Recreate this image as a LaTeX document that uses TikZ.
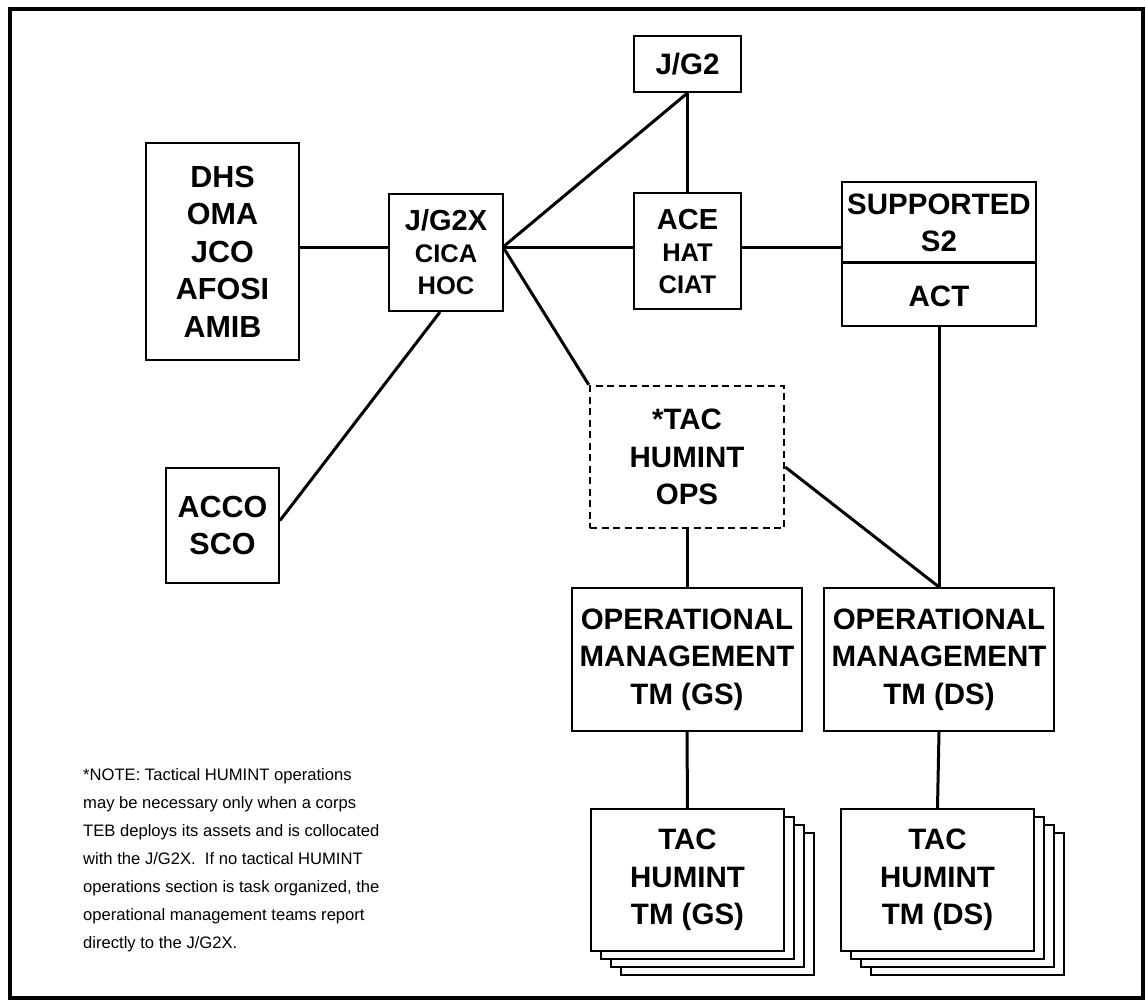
\documentclass[tikz,border=0pt]{standalone}
\usepackage{fontspec}
\setmainfont{Liberation Sans}
\begin{document}
\begin{tikzpicture}[x=1pt,y=-1pt,
  boxline/.style={draw=black, line width=2pt, fill=white},
  box/.style={boxline, inner sep=0pt, align=center, font=\bfseries\fontsize{29.5}{37.5}\selectfont},
  smallbox/.style={box, font=\bfseries\fontsize{25.5}{32}\selectfont},
  dashbox/.style={box, line width=2.5pt, dash pattern=on 7pt off 4.5pt},
  conn/.style={line width=3pt},
  notetext/.style={inner sep=0pt, align=left, font=\fontsize{16.6}{28}\selectfont}]
\useasboundingbox (0,0) rectangle (1146,1001);
\draw[line width=4pt] (10,9) rectangle (1143,998);

% boxes
\node[box, font=\bfseries\fontsize{30.5}{37.5}\selectfont, minimum width=153pt, minimum height=217pt] (dhs) at (222.5,251.5) {DHS\\OMA\\JCO\\AFOSI\\AMIB};
\node[smallbox, minimum width=114pt, minimum height=117pt] (jg2x) at (446,252.5) {{\fontsize{29}{32}\selectfont J/G2X}\\CICA\\HOC};
\node[box, minimum width=107pt, minimum height=56pt] (jg2) at (687.5,64) {J/G2};
\node[smallbox, minimum width=107pt, minimum height=116pt] (ace) at (687.5,251) {{\fontsize{29}{32}\selectfont ACE}\\HAT\\CIAT};
\node[box, minimum width=194pt, minimum height=144pt] (sup) at (939,254) {};
\draw[line width=3pt] (sup.west |- 0,262) -- (sup.east |- 0,262);
\node[inner sep=0pt, align=center, font=\bfseries\fontsize{29.5}{37}\selectfont] (suptext) at (939,223) {SUPPORTED\\S2};
\node[inner sep=0pt, font=\bfseries\fontsize{29.5}{37}\selectfont] (act) at (939,296) {ACT};
\node[box, font=\bfseries\fontsize{30.5}{37.5}\selectfont, minimum width=113pt, minimum height=115pt] (acco) at (222.5,525.5) {ACCO\\SCO};
\node[dashbox, minimum width=194pt, minimum height=142pt] (tacops) at (687,457) {*TAC\\HUMINT\\OPS};
\node[box, minimum width=230pt, minimum height=143pt] (omgs) at (687,659.5) {OPERATIONAL\\MANAGEMENT\\TM (GS)};
\node[box, minimum width=230pt, minimum height=143pt] (omds) at (939,659.5) {OPERATIONAL\\MANAGEMENT\\TM (DS)};

% stacked team boxes
\foreach \k in {3,2,1} {
  \draw[boxline] (591+10*\k, 809+8*\k) rectangle ++(193,142);
  \draw[boxline] (841+10*\k, 809+8*\k) rectangle ++(193,142);
}
\node[box, minimum width=193pt, minimum height=142pt] (tacgs) at (687.5,880) {TAC\\HUMINT\\TM (GS)};
\node[box, minimum width=193pt, minimum height=142pt] (tacds) at (937.5,880) {TAC\\HUMINT\\TM (DS)};

% connectors
\coordinate (hub) at (503,247);
\draw[conn] (dhs.east |- hub) -- (jg2x.west |- hub);
\draw[conn] (hub) -- (jg2.south);
\draw[conn] (hub) -- (ace.west |- hub);
\draw[conn] (ace.east |- hub) -- (sup.west |- hub);
\draw[conn] (hub) -- (tacops.north west);
\draw[conn] ([xshift=-6pt]jg2x.south) -- ([yshift=5pt]acco.east);
\draw[conn] (jg2.south) -- (ace.north);
\draw[conn] (sup.south) -- (omds.north);
\draw[conn] ([yshift=-10pt]tacops.east) -- (omds.north);
\draw[conn] (tacops.south) -- (omgs.north);
\draw[conn] (omgs.south) -- (tacgs.north);
\draw[conn] (omds.south) -- (tacds.north);

% note
\node[notetext, anchor=north west] (note) at (83,768) {*NOTE: Tactical HUMINT operations\\may be necessary only when a corps\\TEB deploys its assets and is collocated\\with the J/G2X.\ \ If no tactical HUMINT\\operations section is task organized, the\\operational management teams report\\directly to the J/G2X.};
\end{tikzpicture}
\end{document}
